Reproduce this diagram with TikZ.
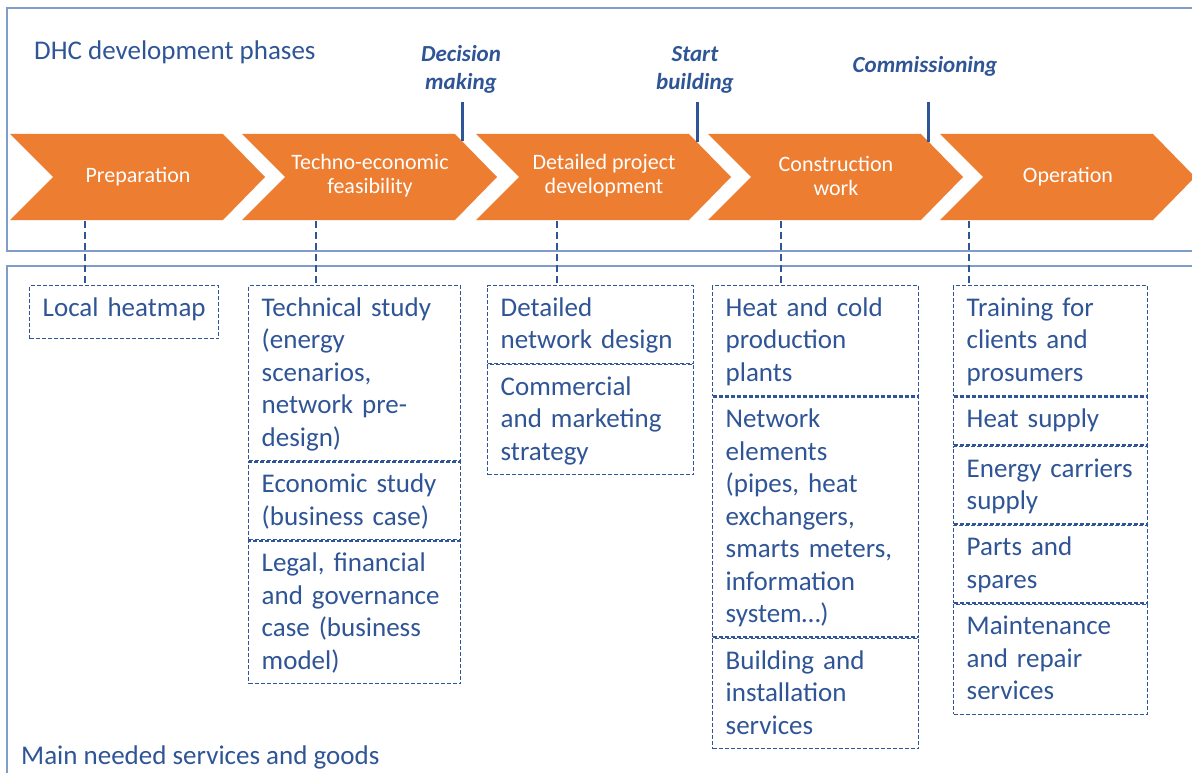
\documentclass[tikz,border=0pt]{standalone}
\usepackage{fontspec}
\setmainfont{Carlito}
\definecolor{dblue}{HTML}{2F5597}
\definecolor{frameblue}{HTML}{7F9CCB}
\definecolor{chev}{HTML}{ED7D31}
\begin{document}
\begin{tikzpicture}[x=1pt,y=-1pt,
  frame/.style={draw=frameblue,line width=1.5pt},
  chevron/.style={fill=chev},
  phase/.style={text=white,align=center,inner sep=0pt,font=\fontsize{22}{24}\selectfont},
  milestone/.style={text=dblue,align=center,inner sep=0pt,anchor=north,font=\fontsize{23}{28}\selectfont\bfseries\itshape},
  tick/.style={draw=dblue,line width=3pt},
  conn/.style={draw=dblue,line width=2pt,dash pattern=on 7pt off 4pt},
  sec/.style={draw=dblue,line width=1.4pt,dash pattern=on 4pt off 2pt,anchor=north west,
    inner xsep=13pt,inner ysep=8.5pt,align=left,text=dblue,
    font=\fontsize{27}{32.5}\selectfont},
  title/.style={text=dblue,inner sep=0pt,anchor=base west,font=\fontsize{27}{32.5}\selectfont}
]
\useasboundingbox (0,0) rectangle (1192,773);
\clip (0,0) rectangle (1192,773);
\fill[white] (0,0) rectangle (1192,773);
% frames
\draw[frame] (7,8) rectangle (1215,251);
\draw[frame] (7,266) rectangle (1215,800);
% titles
\node[title] (t1) at (34,60) {DHC development phases};
\node[title] (t2) at (21,764) {Main needed services and goods};
% chevrons
\foreach \x in {10,242,476,708,940}
  \fill[chevron] (\x,134) -- ++(213,0) -- ++(42,43) -- ++(-42,43) -- ++(-213,0) -- ++(43,-43) -- cycle;
\node[phase] (p1) at (138,177) {Preparation};
\node[phase] (p2) at (370,176) {Techno-economic\\feasibility};
\node[phase] (p3) at (604,176) {Detailed project\\development};
\node[phase] (p4) at (836,176) {Construction\\work};
\node[phase] (p5) at (1068,177) {Operation};
% milestones
\node[milestone] (m1) at (461,44) {\rule{0pt}{17pt}Decision\\making};
\node[milestone] (m2) at (695,44) {\rule{0pt}{17pt}Start\\building};
\node[milestone] (m3) at (925,55) {\rule{0pt}{17pt}Commissioning};
\coordinate (k1a) at (462,102); \coordinate (k1b) at (462,141);
\coordinate (k2a) at (697,102); \coordinate (k2b) at (697,142);
\coordinate (k3a) at (928,102); \coordinate (k3b) at (928,142);
\draw[tick] (k1a) -- (k1b);
\draw[tick] (k2a) -- (k2b);
\draw[tick] (k3a) -- (k3b);
% column 1
\node[sec,text width=163pt] (l1) at (29,285) {\rule{0pt}{22pt}Local heatmap\rule[-14pt]{0pt}{14pt}};
% column 2
\node[sec,text width=186pt] (c2a) at (248,285) {\rule{0pt}{22pt}Technical study\\(energy\\scenarios,\\network pre-\\design)\rule[-6pt]{0pt}{6pt}};
\node[sec,text width=186pt] (c2b) at (c2a.south west) {\rule{0pt}{22pt}Economic study\\(business case)\rule[-6pt]{0pt}{6pt}};
\node[sec,text width=186pt] (c2c) at (c2b.south west) {\rule{0pt}{22pt}Legal, financial\\and governance\\case (business\\model)\rule[-6pt]{0pt}{6pt}};
% column 3
\node[sec,text width=180pt] (c3a) at (487,285) {\rule{0pt}{22pt}Detailed\\network design\rule[-6pt]{0pt}{6pt}};
\node[sec,text width=180pt] (c3b) at (c3a.south west) {\rule{0pt}{22pt}Commercial\\and marketing\\strategy\rule[-6pt]{0pt}{6pt}};
% column 4
\node[sec,text width=180pt] (c4a) at (712,285) {\rule{0pt}{22pt}Heat and cold\\production\\plants\rule[-6pt]{0pt}{6pt}};
\node[sec,text width=180pt] (c4b) at (c4a.south west) {\rule{0pt}{22pt}Network\\elements\\(pipes, heat\\exchangers,\\smarts meters,\\information\\system…)\rule[-6pt]{0pt}{6pt}};
\node[sec,text width=180pt] (c4c) at (c4b.south west) {\rule{0pt}{22pt}Building and\\installation\\services\rule[-6pt]{0pt}{6pt}};
% column 5
\node[sec,text width=168pt] (c5a) at (953,285) {\rule{0pt}{22pt}Training for\\clients and\\prosumers\rule[-6pt]{0pt}{6pt}};
\node[sec,text width=168pt] (c5b) at (c5a.south west) {\rule{0pt}{22pt}Heat supply\rule[-9pt]{0pt}{9pt}};
\node[sec,text width=168pt] (c5c) at (c5b.south west) {\rule{0pt}{22pt}Energy carriers\\supply\rule[-6pt]{0pt}{6pt}};
\node[sec,text width=168pt] (c5d) at (c5c.south west) {\rule{0pt}{22pt}Parts and\\spares\rule[-6pt]{0pt}{6pt}};
\node[sec,text width=168pt] (c5e) at (c5d.south west) {\rule{0pt}{22pt}Maintenance\\and repair\\services\rule[-6pt]{0pt}{6pt}};
% connectors
\coordinate (s1) at (85,221);
\coordinate (s2) at (316,221);
\coordinate (s3) at (557,221);
\coordinate (s4) at (781,221);
\coordinate (s5) at (969,221);
\draw[conn] (s1) -- (s1 |- l1.north);
\draw[conn] (s2) -- (s2 |- c2a.north);
\draw[conn] (s3) -- (s3 |- c3a.north);
\draw[conn] (s4) -- (s4 |- c4a.north);
\draw[conn] (s5) -- (s5 |- c5a.north);
\end{tikzpicture}
\end{document}
